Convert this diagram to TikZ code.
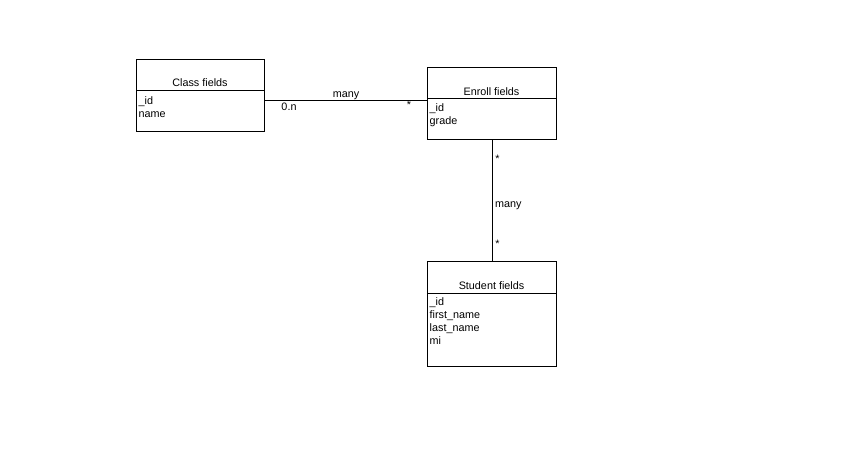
\documentclass[tikz,border=0pt]{standalone}
\usepackage{fontspec}
\setmainfont{Liberation Sans}
\begin{document}
\begin{tikzpicture}[x=1pt,y=-1pt,
  cls/.style={draw,line width=0.9pt,inner sep=0pt,anchor=north west},
  ttl/.style={inner sep=0pt,font=\fontsize{10.8}{12}\selectfont,anchor=base},
  fld/.style={inner sep=0pt,font=\fontsize{10.8}{12}\selectfont,anchor=base west,align=left},
  lbl/.style={inner sep=0pt,font=\fontsize{10.8}{12}\selectfont,anchor=base},
  conn/.style={line width=0.9pt}]
\useasboundingbox[fill=white] (0,0) rectangle (852,448);
% Class
\node[cls,minimum width=128pt,minimum height=72pt] (class) at (136,59) {};
\draw[conn] (136,90) -- (264,90);
\node[ttl] (classt) at (200,86) {Class fields};
\node[fld] (classf) at (138.5,104) {\_id};
\node[fld] (classf2) at (138.5,117) {name};
% Enroll
\node[cls,minimum width=129pt,minimum height=72pt] (enroll) at (427,67) {};
\draw[conn] (427,98) -- (556,98);
\node[ttl] (enrollt) at (491.5,95) {Enroll fields};
\node[fld] (enrollf) at (429.5,111) {\_id};
\node[fld] (enrollf2) at (429.5,124) {grade};
% Student
\node[cls,minimum width=129pt,minimum height=105pt] (student) at (427,261) {};
\draw[conn] (427,293) -- (556,293);
\node[ttl] (studentt) at (491.5,289) {Student fields};
\node[fld] (s1) at (429.5,305) {\_id};
\node[fld] (s2) at (429.5,318) {first\_name};
\node[fld] (s3) at (429.5,331) {last\_name};
\node[fld] (s4) at (429.5,344) {mi};
% connectors
\draw[conn] ([yshift=-5pt]class.east) -- ([yshift=3pt]enroll.west);
\draw[conn] (enroll.south) -- (student.north);
% labels
\node[lbl] (l1) at (346,97) {many};
\node[lbl] (l2) at (289,110) {0.n};
\node[lbl] (l3) at (409,108) {*};
\node[lbl] (l4) at (497.5,162) {*};
\node[lbl,anchor=base west] (l5) at (495,207) {many};
\node[lbl] (l6) at (497.5,247) {*};
\end{tikzpicture}
\end{document}
